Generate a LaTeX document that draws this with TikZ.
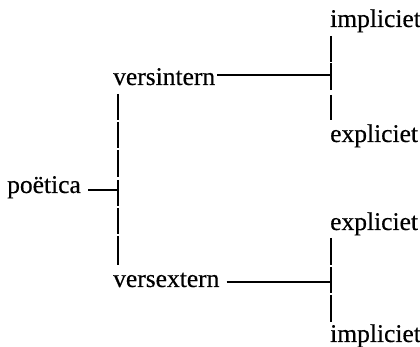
\documentclass[tikz,border=0pt]{standalone}
\usepackage{fontspec}
\setmainfont{Liberation Serif}[FakeBold=0.4]
\begin{document}
\begin{tikzpicture}[x=1pt,y=1pt,
  term/.style={inner sep=0pt,anchor=base west,font=\fontsize{25.5}{28}\selectfont},
  stem/.style={line width=2pt},
  rib/.style={line width=1.3pt},
  ]
\useasboundingbox (0,0) rectangle (420,347);
% labels
\node[term] (poetica)  at (7,154)  {poëtica};
\node[term] (vint)     at (113,262) {versintern};
\node[term] (vext)     at (113,60)  {versextern};
\node[term] (impA)     at (330,320) {impliciet};
\node[term] (expA)     at (330,205) {expliciet};
\node[term] (expB)     at (330,117) {expliciet};
\node[term] (impB)     at (330,5)   {impliciet};
% junction points
\coordinate (jL) at (118,157);
\coordinate (jA) at (331,272);
\coordinate (jB) at (331,65);
% horizontal stems
\draw[stem] ([xshift=7pt]poetica.east |- jL) -- (jL);
\draw[stem] ([xshift=2pt]vint.east |- jA) -- (jA);
\draw[stem] ([xshift=7pt]vext.east |- jB) -- (jB);
% broken vertical bars
\foreach \a/\b in {253/227,225/199,197/170,167/141,139/113,111/82}
  \draw[rib] (118,\a) -- (118,\b);
\foreach \a/\b in {311/285,284/257,252/227}
  \draw[rib] (331,\a) -- (331,\b);
\foreach \a/\b in {109/82,80/54,52/25}
  \draw[rib] (331,\a) -- (331,\b);
\end{tikzpicture}
\end{document}
